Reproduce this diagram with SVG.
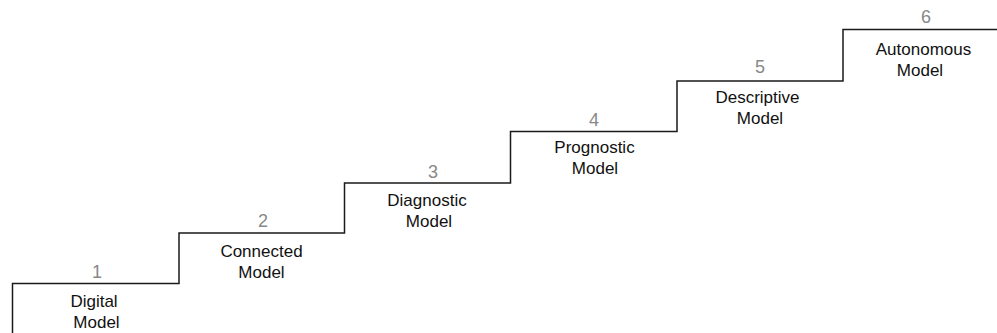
<svg xmlns="http://www.w3.org/2000/svg" width="997" height="333" viewBox="0 0 997 333">
<style>
.num{font-family:"Liberation Sans",Arial,sans-serif;font-size:18px;fill:#888888;text-anchor:middle}
.lbl{font-family:"Liberation Sans",Arial,sans-serif;font-size:17px;fill:#111111;text-anchor:middle}
.stair{fill:none;stroke:#1a1a1a;stroke-width:1.5}
</style>
<rect width="997" height="333" fill="#ffffff"/>
<g id="connectors">
<path class="stair" d="M12.5,333 V283.5 H179 V233 H344.5 V183 H510.5 V131.5 H677 V81 H843 V29.5 H997"/>
</g>
<g id="step1">
<text class="num" x="97" y="278">1</text>
<text class="lbl" x="94" y="307">Digital</text>
<text class="lbl" x="96.5" y="328">Model</text>
</g>
<g id="step2">
<text class="num" x="263" y="227">2</text>
<text class="lbl" x="261.5" y="257">Connected</text>
<text class="lbl" x="261.5" y="278">Model</text>
</g>
<g id="step3">
<text class="num" x="433" y="178">3</text>
<text class="lbl" x="427" y="206">Diagnostic</text>
<text class="lbl" x="429" y="227">Model</text>
</g>
<g id="step4">
<text class="num" x="594" y="126">4</text>
<text class="lbl" x="594.5" y="153">Prognostic</text>
<text class="lbl" x="595" y="174">Model</text>
</g>
<g id="step5">
<text class="num" x="760" y="73">5</text>
<text class="lbl" x="757.5" y="103">Descriptive</text>
<text class="lbl" x="760" y="124">Model</text>
</g>
<g id="step6">
<text class="num" x="926" y="23">6</text>
<text class="lbl" x="923.5" y="55">Autonomous</text>
<text class="lbl" x="920" y="76">Model</text>
</g>
</svg>
